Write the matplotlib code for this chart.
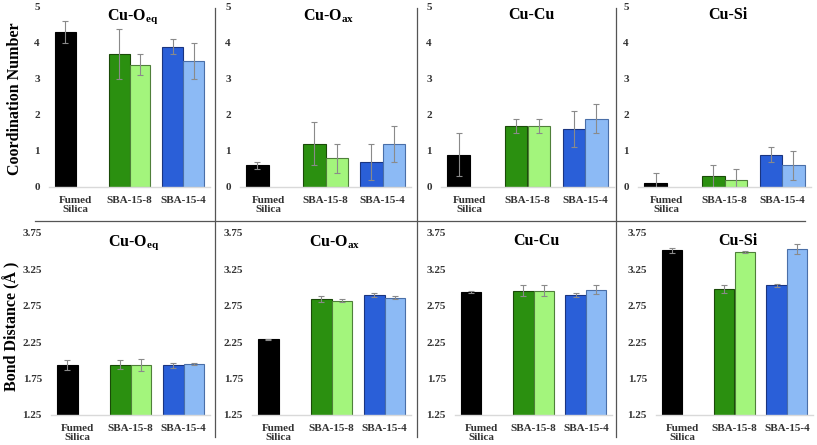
import numpy as np
import matplotlib
matplotlib.use('Agg')
import matplotlib.pyplot as plt
from matplotlib.lines import Line2D

plt.rcParams['font.family'] = ['Liberation Serif', 'DejaVu Serif']
plt.rcParams['mathtext.fontset'] = 'custom'
plt.rcParams['mathtext.rm'] = 'Liberation Serif:bold'
plt.rcParams['mathtext.bf'] = 'Liberation Serif:bold'

nan = np.nan
categories = ['Fumed\nSilica', 'SBA-15-8', 'SBA-15-4']
panel_titles = [r'Cu-O$_{\mathbf{eq}}$', r'Cu-O$_{\mathbf{ax}}$', 'Cu-Cu', 'Cu-Si']

# Coordination number: series A (Fumed / SBA dark) and series B (SBA light)
cn_a = [[4.3, 3.7, 3.9], [0.6, 1.2, 0.7], [0.9, 1.7, 1.6], [0.1, 0.3, 0.9]]
cn_a_err = [[0.3, 0.7, 0.2], [0.1, 0.6, 0.5], [0.6, 0.2, 0.5], [0.3, 0.3, 0.2]]
cn_b = [[nan, 3.4, 3.5], [nan, 0.8, 1.2], [nan, 1.7, 1.9], [nan, 0.2, 0.6]]
cn_b_err = [[0, 0.3, 0.5], [0, 0.4, 0.5], [0, 0.2, 0.4], [0, 0.3, 0.4]]

# Bond distance (Å)
bd_a = [[1.94, 1.94, 1.93], [2.29, 2.84, 2.90], [2.94, 2.96, 2.90], [3.51, 2.98, 3.03]]
bd_a_err = [[0.07, 0.06, 0.03], [0.01, 0.04, 0.03], [0.02, 0.07, 0.03], [0.03, 0.06, 0.02]]
bd_b = [[nan, 1.94, 1.95], [nan, 2.82, 2.86], [nan, 2.96, 2.97], [nan, 3.49, 3.53]]
bd_b_err = [[0, 0.08, 0.01], [0, 0.02, 0.02], [0, 0.08, 0.06], [0, 0.01, 0.07]]

cn_ticks = [0, 1, 2, 3, 4, 5]
bd_ticks = [1.25, 1.75, 2.25, 2.75, 3.25, 3.75]

colors_a = ['#000000', '#2b9010', '#2a5fd8']
edges_a = ['#000000', '#1a4a08', '#1a3580']
colors_b = ['#ffffff', '#a3f57c', '#8cbaf5']
edges_b = ['#ffffff', '#4f7f3a', '#4a6fa8']

W, H = 817, 445
fig = plt.figure(figsize=(W / 100, H / 100), dpi=100)

top_boxes = [(49, 7, 210, 187), (240, 7, 411, 187), (441, 7, 614, 187), (638, 7, 811, 187)]
bot_boxes = [(51, 233, 210, 415), (252, 233, 411, 415), (455, 233, 612, 415), (656, 233, 813, 415)]


def make_ax(box):
    l, t, r, b = box
    return fig.add_axes([l / W, 1 - b / H, (r - l) / W, (b - t) / H])


def draw(ax, a, ae, bvals, be, ylim, ticks, fmt, title):
    x = np.arange(len(categories))
    w = 0.39
    ekw = dict(ecolor='#8a8a8a', elinewidth=0.8, capsize=2, capthick=0.8)
    ax.bar(x - w / 2, a, w, color=colors_a, edgecolor=edges_a, linewidth=0.8,
           yerr=ae, error_kw=ekw, zorder=2)
    ax.bar(x + w / 2, bvals, w, color=colors_b, edgecolor=edges_b, linewidth=0.8,
           yerr=[0 if np.isnan(v) else e for v, e in zip(bvals, be)], error_kw=ekw, zorder=2)
    ax.set_xlim(-0.5, 2.5)
    ax.set_ylim(*ylim)
    ax.set_yticks(ticks)
    ax.set_yticklabels([fmt.format(t) for t in ticks], fontsize=8, fontweight='bold', color='#333333')
    ax.set_xticks(x)
    ax.set_xticklabels(categories, fontsize=8, fontweight='bold', color='#333333', linespacing=1.0)
    ax.tick_params(axis='both', length=0, pad=6.5)
    for s in ['left', 'right', 'top']:
        ax.spines[s].set_visible(False)
    ax.spines['bottom'].set_color('#d9d9d9')
    ax.spines['bottom'].set_linewidth(1.0)
    ax.text(0.52, 1.0, title, transform=ax.transAxes, ha='center', va='top',
            fontsize=11.5, fontweight='bold')


for i in range(4):
    ax = make_ax(top_boxes[i])
    draw(ax, cn_a[i], cn_a_err[i], cn_b[i], cn_b_err[i], (0, 5), cn_ticks, '{:g}', panel_titles[i])
    ax2 = make_ax(bot_boxes[i])
    draw(ax2, bd_a[i], bd_a_err[i], bd_b[i], bd_b_err[i], (1.25, 3.75), bd_ticks, '{:.2f}', panel_titles[i])

fig.text(15 / W, 1 - 99 / H, 'Coordination Number', rotation=90, ha='center', va='center',
         fontsize=11.5, fontweight='bold')
fig.text(12 / W, 1 - 326 / H, 'Bond Distance (Å )', rotation=90, ha='center', va='center',
         fontsize=11.5, fontweight='bold')

line_kw = dict(color='#555555', linewidth=0.9, transform=fig.transFigure)
fig.add_artist(Line2D([35 / W, 805 / W], [1 - 221 / H, 1 - 221 / H], **line_kw))
for xv in [215, 417, 616]:
    fig.add_artist(Line2D([xv / W, xv / W], [1 - 8 / H, 1 - 437 / H], **line_kw))

fig.savefig('out.png', dpi=100)
